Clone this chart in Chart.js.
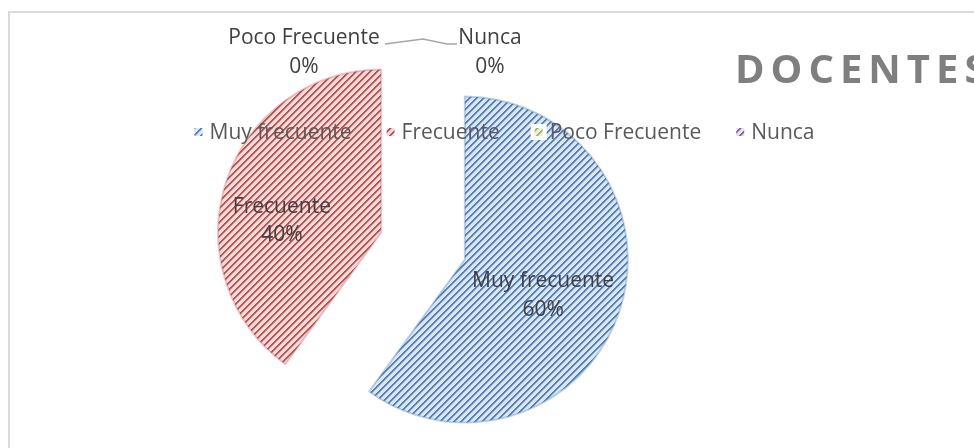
<!DOCTYPE html>
<html>
<head>
<meta charset="utf-8">
<script src="https://cdn.jsdelivr.net/npm/chart.js@4.4.1/dist/chart.umd.min.js"></script>
<style>
    html, body { margin: 0; padding: 0; background: #ffffff; }
    #wrap { width: 974px; height: 448px; position: relative; }
</style>
</head>
<body>
<div id="wrap"><canvas id="docentesChart"></canvas></div>
<script>
// data
const categories = ["Muy frecuente", "Frecuente", "Poco Frecuente", "Nunca"];
const values = [60, 40, 0, 0];
const chartTitle = "DOCENTES";

// office-like colours
const stripeColors = ["#4f81bd", "#c0504d", "#9bbb59", "#8064a2"];
const fillColors = ["#dce6f2", "#f2dcdb", "#ebf1de", "#e5e0ec"];
const edgeColors = ["rgba(79,129,189,0.35)", "rgba(192,80,77,0.3)", "#9bbb59", "#8064a2"];
const explodePx = [44, 44, 44, 44];
const labelNudge = [[-7, 0], [-14, 8], [-119, 5], [67, 5]];

const chartCanvas = document.getElementById("docentesChart");
const mainCtx = chartCanvas.getContext("2d");

// stepped diagonal stripes, like the excel pattern fill
function hatch(fg, bg) {
    const n = 7;
    const tile = document.createElement("canvas");
    tile.width = n;
    tile.height = n;
    const g = tile.getContext("2d");
    g.fillStyle = bg;
    g.fillRect(0, 0, n, n);
    g.fillStyle = fg;
    for (let y = 0; y < n; y++) {
        g.globalAlpha = 1;
        g.fillRect((n - 1 - y) % n, y, 1, 1);
        g.fillRect((n - y) % n, y, 1, 1);
        g.globalAlpha = 0.45;
        g.fillRect((n + 1 - y) % n, y, 1, 1);
    }
    return mainCtx.createPattern(tile, "repeat");
}

const patterns = stripeColors.map((c, i) => hatch(c, fillColors[i]));

// pull every slice away from the centre along its middle angle
const explodeSlices = {
    id: "explodeSlices",
    afterDatasetUpdate(chart, args) {
        args.meta.data.forEach((arc, i) => {
            const half = (arc.startAngle + arc.endAngle) / 2;
            arc.x += Math.cos(half) * explodePx[i];
            arc.y += Math.sin(half) * explodePx[i];
        });
    }
};

const decor = {
    id: "decor",
    beforeDraw(chart) {
        const ctx = chart.ctx;
        ctx.save();
        ctx.strokeStyle = "#d9d9d9";
        ctx.lineWidth = 2;
        ctx.strokeRect(9, 12, 1200, 1200);
        ctx.restore();
    },
    afterDraw(chart) {
        const ctx = chart.ctx;
        const arcs = chart.getDatasetMeta(0).data;
        const total = values.reduce((s, v) => s + v, 0);
        ctx.save();

        // data labels
        ctx.font = "21px 'Open Sans'";
        ctx.textAlign = "center";
        ctx.fillStyle = "#404040";
        let topX = 0, topY = 0;
        arcs.forEach((arc, i) => {
            const r = arc.outerRadius;
            const half = (arc.startAngle + arc.endAngle) / 2;
            const dist = values[i] > 0 ? r * 0.55 : r;
            const px = arc.x + Math.cos(half) * dist;
            const py = arc.y + Math.sin(half) * dist;
            if (values[i] === 0) {
                topX = px;
                topY = py;
            }
            const ax = px + labelNudge[i][0];
            const ay = py + labelNudge[i][1];
            ctx.fillText(categories[i], ax, ay);
            ctx.fillText(Math.round(values[i] / total * 100) + "%", ax, ay + 28.5);
        });

        // leader line of the two empty slices
        ctx.strokeStyle = "#a6a6a6";
        ctx.lineWidth = 1.3;
        ctx.beginPath();
        ctx.moveTo(topX - 38, topY + 5);
        ctx.lineTo(topX, topY);
        ctx.lineTo(topX + 24, topY + 5);
        ctx.lineTo(topX + 34, topY + 5);
        ctx.stroke();

        // legend
        ctx.textAlign = "left";
        const widths = categories.map(c => ctx.measureText(c).width);
        const full = widths.reduce((s, w) => s + w + 15, 0) + 35 * 3;
        let x = 504.5 - full / 2;
        categories.forEach((c, i) => {
            ctx.fillStyle = "#ffffff";
            ctx.fillRect(x - 4, 124, 16, 16);
            ctx.fillStyle = patterns[i];
            ctx.fillRect(x, 128, 8, 8);
            ctx.fillStyle = "#595959";
            ctx.fillText(c, x + 15, 139);
            x += 15 + widths[i] + 35;
        });

        // title
        ctx.font = "bold 40px 'Open Sans'";
        ctx.letterSpacing = "6px";
        ctx.fillStyle = "#7f7f7f";
        ctx.fillText(chartTitle, 735, 83);
        ctx.letterSpacing = "0px";
        ctx.restore();
    }
};

new Chart(chartCanvas, {
    type: "pie",
    data: {
        labels: categories,
        datasets: [
            {
                data: values,
                backgroundColor: patterns,
                borderColor: edgeColors,
                borderWidth: 2,
                clip: false
            }
        ]
    },
    options: {
        responsive: true,
        maintainAspectRatio: false,
        animation: false,
        events: [],
        radius: 163,
        layout: {
            padding: { left: 0, right: 128, top: 44, bottom: 0 }
        },
        plugins: {
            legend: { display: false },
            tooltip: { enabled: false }
        }
    },
    plugins: [explodeSlices, decor]
});
</script>
</body>
</html>
